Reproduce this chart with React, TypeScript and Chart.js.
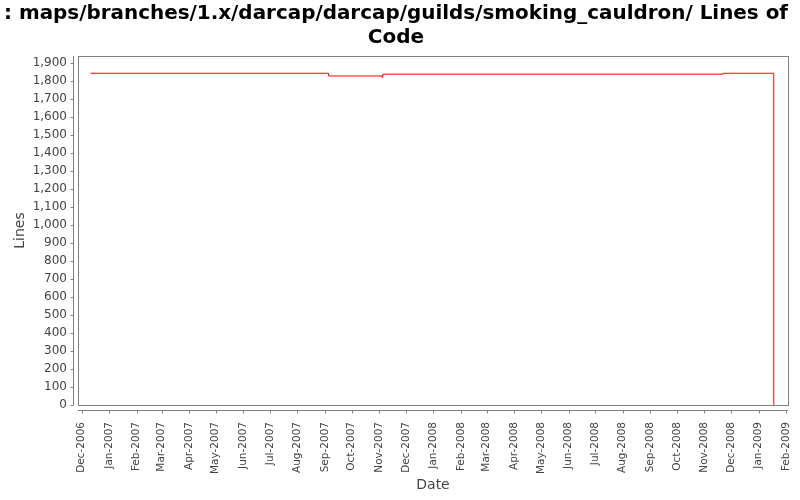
import React, { useEffect, useRef } from "react";
import { Chart, registerables } from "chart.js";

Chart.register(...registerables);

const titleLines = [
  ": maps/branches/1.x/darcap/darcap/guilds/smoking_cauldron/ Lines of",
  "Code",
];

// commit dates and the line count from that date on
const changeDates = [
  "2006-12-11",
  "2007-09-05",
  "2007-11-04",
  "2007-11-05",
  "2008-11-22",
  "2009-01-18",
];
const lineCounts = [1844, 1829, 1822, 1839, 1844, 0];

const monthTicks = [
  "Dec-2006", "Jan-2007", "Feb-2007", "Mar-2007", "Apr-2007", "May-2007",
  "Jun-2007", "Jul-2007", "Aug-2007", "Sep-2007", "Oct-2007", "Nov-2007",
  "Dec-2007", "Jan-2008", "Feb-2008", "Mar-2008", "Apr-2008", "May-2008",
  "Jun-2008", "Jul-2008", "Aug-2008", "Sep-2008", "Oct-2008", "Nov-2008",
  "Dec-2008", "Jan-2009", "Feb-2009",
];
const yTicks = [
  0, 100, 200, 300, 400, 500, 600, 700, 800, 900, 1000,
  1100, 1200, 1300, 1400, 1500, 1600, 1700, 1800, 1900,
];

const MONTHS = ["Jan", "Feb", "Mar", "Apr", "May", "Jun", "Jul", "Aug", "Sep", "Oct", "Nov", "Dec"];
const DAY = 86400000;

const dayOf = (s: string) => Date.parse(s + "T00:00:00Z") / DAY;
const monthDay = (label: string) => {
  const [m, y] = label.split("-");
  return Date.UTC(Number(y), MONTHS.indexOf(m), 1) / DAY;
};

const FONT = "'DejaVu Sans', sans-serif";
const GREY = "#808080";

// plot outline plus the offset axis lines with their small tick marks
const framePlugin = {
  id: "frame",
  afterDraw(chart: any) {
    const { ctx, chartArea } = chart;
    const { left, top, right, bottom } = chartArea;
    ctx.save();
    ctx.strokeStyle = GREY;
    ctx.lineWidth = 1;
    ctx.strokeRect(Math.round(left) + 0.5, Math.round(top) + 0.5, Math.round(right - left), Math.round(bottom - top));

    const ax = Math.round(left) - 5 + 0.5;
    ctx.beginPath();
    ctx.moveTo(ax, top);
    ctx.lineTo(ax, bottom);
    chart.scales.y.ticks.forEach((t: any) => {
      const py = Math.round(chart.scales.y.getPixelForValue(t.value)) + 0.5;
      ctx.moveTo(ax - 3, py);
      ctx.lineTo(ax, py);
    });
    const ay = Math.round(bottom) + 5 + 0.5;
    ctx.moveTo(left, ay);
    ctx.lineTo(right, ay);
    chart.scales.x.ticks.forEach((t: any) => {
      const px = Math.round(chart.scales.x.getPixelForValue(t.value)) + 0.5;
      ctx.moveTo(px, ay);
      ctx.lineTo(px, ay + 3);
    });
    ctx.stroke();
    ctx.restore();
  },
};

export default function App() {
  const chartRef = useRef<HTMLCanvasElement>(null);

  useEffect(() => {
    const points = changeDates.map((d, i) => ({ x: dayOf(d), y: lineCounts[i] }));

    const chart = new Chart(chartRef.current!, {
      type: "line",
      data: {
        datasets: [
          {
            label: "Lines",
            data: points,
            borderColor: "#ff0000",
            borderWidth: 1,
            pointRadius: 0,
            stepped: "before",
            fill: false,
          },
        ],
      },
      options: {
        animation: false,
        responsive: false,
        layout: { padding: { left: 4, right: 12, top: 2, bottom: 2 } },
        plugins: {
          legend: { display: false },
          tooltip: { enabled: false },
          title: {
            display: true,
            text: titleLines,
            color: "#000",
            font: { family: FONT, size: 20, weight: "bold", lineHeight: 1.2 },
            padding: { top: 0, bottom: 6 },
          },
        },
        scales: {
          x: {
            type: "linear",
            min: dayOf("2006-11-27"),
            max: dayOf("2009-02-03"),
            grid: { display: false, drawTicks: false, tickLength: 0 },
            border: { display: false },
            afterBuildTicks: (scale: any) => {
              scale.ticks = monthTicks.map((m) => ({ value: monthDay(m), label: m }));
            },
            afterFit: (scale: any) => {
              scale.height = 93;
              scale.paddingLeft = 0;
              scale.paddingRight = 0;
            },
            ticks: {
              autoSkip: false,
              minRotation: 90,
              maxRotation: 90,
              padding: 17,
              color: "#444",
              font: { family: FONT, size: 10.5 },
              callback: (v: any) => {
                const d = new Date(Number(v) * DAY);
                return MONTHS[d.getUTCMonth()] + "-" + d.getUTCFullYear();
              },
            },
            title: {
              display: true,
              text: "Date",
              color: "#444",
              font: { family: FONT, size: 14 },
              padding: { top: 0, bottom: 4 },
            },
          },
          y: {
            min: 0,
            max: 1940,
            grid: { display: false, drawTicks: false, tickLength: 0 },
            border: { display: false },
            afterBuildTicks: (scale: any) => {
              scale.ticks = yTicks.map((v) => ({ value: v }));
            },
            afterFit: (scale: any) => {
              scale.width = 74;
            },
            ticks: {
              autoSkip: false,
              padding: 11,
              color: "#444",
              font: { family: FONT, size: 12 },
              callback: (v: any) => Number(v).toLocaleString("en-US"),
            },
            title: {
              display: true,
              text: "Lines",
              color: "#444",
              font: { family: FONT, size: 14 },
              padding: { top: 8, bottom: 4 },
            },
          },
        },
      },
      plugins: [framePlugin],
    });

    return () => {
      chart.destroy();
    };
  }, []);

  return (
    <div style={{ position: "absolute", left: 0, top: 0, width: 800, height: 500, background: "#fff" }}>
      <canvas width="800" height="500" ref={chartRef}></canvas>
    </div>
  );
}
